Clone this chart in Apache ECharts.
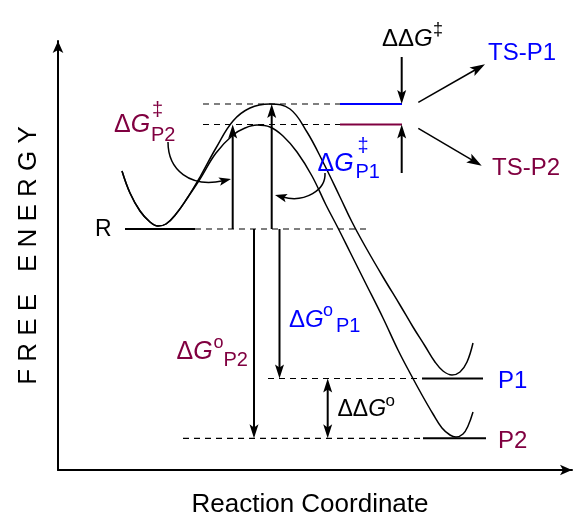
<!DOCTYPE html>
<html><head><meta charset="utf-8">
<script src="https://cdn.jsdelivr.net/npm/echarts@6/dist/echarts.min.js"></script>
<style>html,body{margin:0;padding:0;background:#fff}#c{width:579px;height:516px}</style>
</head><body><div id="c"></div>
<script>
// ---------- DATA (reaction coordinate, free energy; R = 0) ----------
const levelNames = ['R', 'TS-P1', 'TS-P2', 'P1', 'P2'];
const levelEnergies = [0, 12.5, 10.45, -14.95, -20.93];

// energy profile leading to P1 (through TS-P1)
const curveP1 = [[6.4,5.8],[7.2,3.6],[8.2,1.8],[9.2,0.7],[10.0,0.3],[10.8,0.5],[11.8,1.5],[13.0,3.2],[14.2,5.2],[15.8,8.1],[17.5,10.8],[19.2,12.1],[21.2,12.5],[23.2,12.0],[24.9,9.7],[26.5,6.7],[28.2,3.2],[29.4,0.7],[30.7,-1.7],[32.5,-4.8],[34.2,-7.6],[35.5,-9.8],[36.7,-11.7],[37.7,-13.3],[38.5,-14.2],[39.4,-14.6],[40.2,-14.3],[40.9,-13.3],[41.5,-11.4]];
// energy profile leading to P2 (through TS-P2)
const curveP2 = [[6.4,5.8],[7.2,3.6],[8.2,1.8],[9.2,0.7],[10.0,0.3],[10.8,0.5],[11.8,1.5],[13.0,3.2],[14.2,5.0],[15.8,7.6],[17.5,9.4],[18.7,10.1],[19.9,10.4],[21.2,10.2],[22.5,9.3],[23.9,7.7],[25.4,5.3],[26.8,2.4],[28.0,0.1],[29.2,-2.3],[30.7,-5.3],[32.5,-8.9],[34.0,-12.1],[35.2,-14.4],[36.4,-16.6],[37.5,-18.5],[38.4,-19.9],[39.2,-20.6],[39.8,-20.8],[40.5,-20.5],[41.0,-19.7],[41.5,-18.3]];

// ---------- LAYOUT / STYLE ----------
const BLUE = '#0000ff', MAROON = '#800040', BLACK = '#000000';
const FONT = '"Liberation Sans", Arial, Helvetica, sans-serif';

const layout = {
  // [levelIndex, rcFrom, rcTo, color, dashed]
  levels: [
    [0, 6.7, 13.7, BLACK, false], [0, 13.7, 31.2, BLACK, true],
    [1, 14.5, 28.2, BLACK, true], [1, 28.2, 34.4, BLUE, false],
    [2, 14.5, 28.2, BLACK, true], [2, 28.2, 34.4, MAROON, false],
    [3, 21.0, 36.4, BLACK, true], [3, 36.4, 42.5, BLACK, false],
    [4, 12.5, 36.5, BLACK, true], [4, 36.5, 42.8, BLACK, false]
  ],
  // vertical arrows between levels: [rc, fromLevel, toLevel, double]
  gapArrows: [
    [17.47, 0, 2, false], [21.37, 0, 1, false],
    [19.6, 0, 4, false], [22.15, 0, 3, false],
    [26.97, 3, 4, true]
  ],
  // ΔΔG‡ arrows: [rc, fromEnergy, toLevel]
  ddgArrows: [[34.37, 17.2, 1], [34.37, 5.6, 2]],
  // pointers to TS labels: [[rc0,E0],[rc1,E1]]
  pointers: [[[36.03, 12.67], [42.7, 16.47]], [[36.03, 10.07], [42.37, 6.33]]],
  // curved arrows (bezier): P0, C1, C2, P3
  curved: [
    [[11.0, 8.7], [11.0, 5.9], [13.2, 4.1], [17.3, 5.0]],
    [[26.7, 5.6], [26.8, 3.9], [24.7, 2.6], [21.7, 3.4]]
  ],
  // labels: anchor (left, vertical middle), parts with pixel offsets
  labels: [
    {rc: 3.7, e: -0.1, color: BLACK, parts: [{t: 'R', s: 23}]},
    {rc: 44.0, e: -15.2, color: BLUE, parts: [{t: 'P1', s: 24}]},
    {rc: 44.0, e: -21.2, color: MAROON, parts: [{t: 'P2', s: 24}]},
    {rc: 43.0, e: 17.6, color: BLUE, parts: [{t: 'TS-P1', s: 24}]},
    {rc: 43.4, e: 6.1, color: MAROON, parts: [{t: 'TS-P2', s: 24}]},
    {rc: 32.4, e: 19.0, color: BLACK, parts: [{t: 'ΔΔ', g: true, s: 24}, {t: '‡', s: 18, dx: 51, dy: -9}]},
    {rc: 5.6, e: 10.35, color: MAROON, parts: [{t: 'Δ', g: true, s: 25}, {t: '‡', s: 20, dx: 38, dy: -15}, {t: 'P2', s: 20, dx: 37, dy: 10}]},
    {rc: 25.95, e: 6.5, color: BLUE, parts: [{t: 'Δ', g: true, s: 25}, {t: '‡', s: 20, dx: 40, dy: -18}, {t: 'P1', s: 20, dx: 38, dy: 8}]},
    {rc: 11.85, e: -12.35, color: MAROON, parts: [{t: 'Δ', g: true, s: 25}, {t: 'o', s: 18, dx: 37, dy: -9}, {t: 'P2', s: 20, dx: 47, dy: 8}]},
    {rc: 23.1, e: -9.1, color: BLUE, parts: [{t: 'Δ', g: true, s: 24}, {t: 'o', s: 18, dx: 34, dy: -9}, {t: 'P1', s: 20, dx: 47, dy: 6}]},
    {rc: 27.95, e: -18.1, color: BLACK, parts: [{t: 'ΔΔ', g: true, s: 23}, {t: 'o', s: 17, dx: 48, dy: -9}]}
  ]
};

function head(t, ux, uy, L, W, color) {
  const px = -uy, py = ux, n = L * 0.22;
  return {type: 'polygon', shape: {points: [
    [t[0], t[1]],
    [t[0] - ux * L + px * W, t[1] - uy * L + py * W],
    [t[0] - ux * (L - n), t[1] - uy * (L - n)],
    [t[0] - ux * L - px * W, t[1] - uy * L - py * W]
  ]}, style: {fill: color}};
}
function arrow(kids, p0, p1, lw, L, W, both) {
  const dx = p1[0] - p0[0], dy = p1[1] - p0[1], len = Math.hypot(dx, dy);
  const ux = dx / len, uy = dy / len, k = L * 0.7;
  const s = both ? [p0[0] + ux * k, p0[1] + uy * k] : p0;
  const e = [p1[0] - ux * k, p1[1] - uy * k];
  kids.push({type: 'line', shape: {x1: s[0], y1: s[1], x2: e[0], y2: e[1]}, style: {stroke: BLACK, lineWidth: lw}});
  kids.push(head(p1, ux, uy, L, W, BLACK));
  if (both) kids.push(head(p0, -ux, -uy, L, W, BLACK));
}

function renderItem(params, api) {
  const c = (rc, e) => api.coord([rc, e]);
  const kids = [];
  layout.levels.forEach(s => {
    const e = levelEnergies[s[0]];
    const a = c(s[1], e), b = c(s[2], e);
    kids.push({type: 'line', shape: {x1: a[0], y1: a[1], x2: b[0], y2: b[1]},
      style: {stroke: s[3], lineWidth: s[4] ? 1.2 : 2, lineDash: s[4] ? [6, 5] : null}});
  });
  layout.gapArrows.forEach(a => {
    arrow(kids, c(a[0], levelEnergies[a[1]]), c(a[0], levelEnergies[a[2]]), 2, 14, 4.5, a[3]);
  });
  layout.ddgArrows.forEach(a => {
    arrow(kids, c(a[0], a[1]), c(a[0], levelEnergies[a[2]]), 2, 14, 4.5, false);
  });
  layout.pointers.forEach(p => {
    arrow(kids, c(p[0][0], p[0][1]), c(p[1][0], p[1][1]), 1.5, 15, 5, false);
  });
  layout.curved.forEach(b => {
    const p0 = c(b[0][0], b[0][1]), c1 = c(b[1][0], b[1][1]), c2 = c(b[2][0], b[2][1]), p3 = c(b[3][0], b[3][1]);
    const dx = p3[0] - c2[0], dy = p3[1] - c2[1], len = Math.hypot(dx, dy);
    const ux = dx / len, uy = dy / len;
    const e = [p3[0] - ux * 8, p3[1] - uy * 8];
    kids.push({type: 'bezierCurve', shape: {x1: p0[0], y1: p0[1], cpx1: c1[0], cpy1: c1[1], cpx2: c2[0], cpy2: c2[1], x2: e[0], y2: e[1]},
      style: {stroke: BLACK, lineWidth: 1.5, fill: null}});
    kids.push(head(p3, ux, uy, 12, 4.2, BLACK));
  });
  layout.labels.forEach(l => {
    const p = c(l.rc, l.e);
    l.parts.forEach(pt => {
      const x = p[0] + (pt.dx || 0), y = p[1] + (pt.dy || 0);
      if (pt.g) {
        kids.push({type: 'text', x: x, y: y, style: {
          text: '{n|' + pt.t + '}{i|G}', align: 'left', verticalAlign: 'middle',
          rich: {n: {fontSize: pt.s, fontFamily: FONT, fill: l.color, color: l.color},
                 i: {fontSize: pt.s, fontFamily: FONT, fontStyle: 'italic', fill: l.color, color: l.color}}}});
      } else {
        kids.push({type: 'text', x: x, y: y, style: {
          text: pt.t, fill: l.color, fontSize: pt.s, fontFamily: FONT, align: 'left', verticalAlign: 'middle'}});
      }
    });
  });
  return {type: 'group', children: kids};
}

const axisCommon = {
  type: 'value',
  axisTick: {show: false}, axisLabel: {show: false}, splitLine: {show: false},
  axisLine: {show: true, onZero: false, symbol: ['none', 'arrow'], symbolSize: [8, 12],
    lineStyle: {color: BLACK, width: 2}},
  nameLocation: 'middle'
};

const chart = echarts.init(document.getElementById('c'), null, {renderer: 'canvas'});
chart.setOption({
  animation: false,
  backgroundColor: '#ffffff',
  grid: {left: 58, right: 7, top: 41, bottom: 46, outerBoundsMode: 'none'},
  xAxis: Object.assign({}, axisCommon, {min: 0, max: 51.4, name: 'Reaction Coordinate', nameGap: 22,
    nameTextStyle: {fontSize: 26, color: BLACK, fontFamily: FONT, padding: [0, 10, 0, 0]}}),
  yAxis: Object.assign({}, axisCommon, {min: -24.1, max: 18.8, name: 'F R E E   E N E R G Y', nameGap: 16, nameRotate: 90,
    nameTextStyle: {fontSize: 26, color: BLACK, fontFamily: FONT}}),
  series: [
    {type: 'line', name: levelNames[1], data: curveP1, smooth: 0.4, showSymbol: false, clip: false,
      lineStyle: {color: BLACK, width: 1.5}, z: 3},
    {type: 'line', name: levelNames[2], data: curveP2, smooth: 0.4, showSymbol: false, clip: false,
      lineStyle: {color: BLACK, width: 1.5}, z: 3},
    {type: 'custom', coordinateSystem: 'cartesian2d', data: [[0, 0]], renderItem: renderItem, clip: false, silent: true, z: 4}
  ]
});
</script></body></html>
